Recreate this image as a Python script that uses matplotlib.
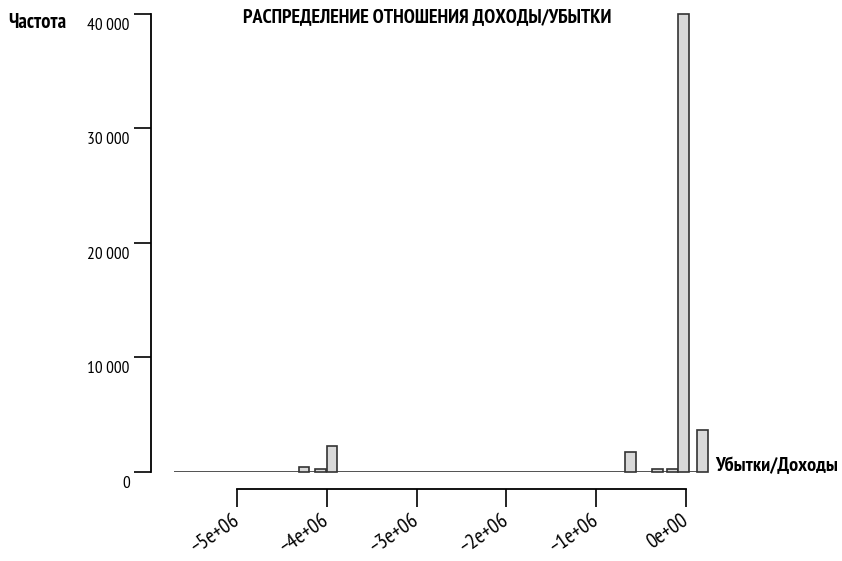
import numpy as np
import matplotlib
matplotlib.use("Agg")
import matplotlib.pyplot as plt
from matplotlib.transforms import ScaledTranslation
from matplotlib.ticker import FuncFormatter

# данные гистограммы (левые границы корзин и частоты)
bin_left = [-4.315e6, -4.131e6, -4.001e6, -0.676e6, -0.379e6, -0.212e6, -0.089e6, 0.126e6]
counts = [450, 260, 2220, 1720, 240, 240, 40000, 3640]
bin_width = 0.12e6
data_min, data_max = -5.70e6, 0.249e6

x_ticks = [-5e6, -4e6, -3e6, -2e6, -1e6, 0]
x_labels = ["\u22125e+06", "\u22124e+06", "\u22123e+06", "\u22122e+06", "\u22121e+06", "0e+00"]
y_ticks = [0, 10000, 20000, 30000, 40000]

plt.rcParams["font.family"] = ["PT Sans Narrow", "DejaVu Sans"]

fig = plt.figure(figsize=(8.42, 5.61), dpi=100)
ax = fig.add_axes([150.7 / 842, (561 - 471.7) / 561, (712.9 - 150.7) / 842, (471.7 - 14) / 561])

# линия нулевых корзин, как у hist() в R
ax.hlines(0, data_min, data_max, color="#444444", lw=1.3, zorder=2)
ax.bar(bin_left, counts, width=bin_width, align="edge", color="#d9d9d9",
       edgecolor="#333333", linewidth=1.2, zorder=3, clip_on=False)

ax.set_xlim(-5.961e6, 0.3e6)
ax.set_ylim(0, 40000)

for s in ["top", "right"]:
    ax.spines[s].set_visible(False)
ax.spines["left"].set_linewidth(1.3)
ax.spines["bottom"].set_linewidth(1.3)
ax.spines["bottom"].set_position(("outward", 12.5))
ax.spines["bottom"].set_bounds(-5e6, 0)

ax.set_xticks(x_ticks)
ax.set_xticklabels(x_labels, rotation=35, ha="right", va="center", rotation_mode="anchor")
ax.set_yticks(y_ticks)
ax.yaxis.set_major_formatter(FuncFormatter(lambda v, p: f"{int(v):,}".replace(",", "\u2009")))

ax.tick_params(axis="x", length=13, width=1.2, direction="out", labelsize=15, pad=8)
ax.tick_params(axis="y", length=12, width=1.2, direction="out", labelsize=12.5, pad=3)

shift = ScaledTranslation(0, -10 / 100, fig.dpi_scale_trans)
for lab in ax.get_yticklabels():
    lab.set_transform(lab.get_transform() + shift)

fig.text(427 / 842, 1 - 17 / 561, "РАСПРЕДЕЛЕНИЕ ОТНОШЕНИЯ ДОХОДЫ/УБЫТКИ",
         ha="center", va="center", fontsize=14.4, fontweight="bold")
fig.text(8 / 842, 1 - 22 / 561, "Частота", ha="left", va="center",
         fontsize=14.8, fontweight="bold")
fig.text(715 / 842, 1 - 466 / 561, "Убытки/Доходы", ha="left", va="center",
         fontsize=14.7, fontweight="bold")

fig.savefig("out.png", dpi=100)
